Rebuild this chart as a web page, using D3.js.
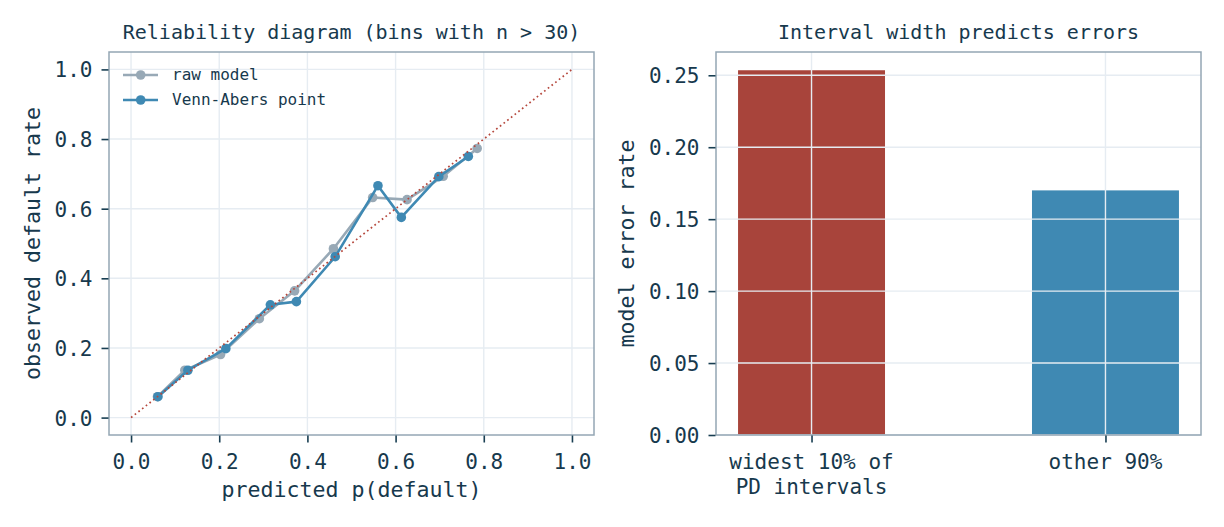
<!DOCTYPE html>
<html>
<head>
<meta charset="utf-8">
<script src="https://cdn.jsdelivr.net/npm/d3@7"></script>
<style>
  html, body { margin: 0; padding: 0; background: #ffffff; }
  svg { display: block; }
  text { font-family: "DejaVu Sans Mono", monospace; fill: #17394d; }
</style>
</head>
<body>
<svg id="chart" width="1224" height="527"></svg>
<script>
// ---- data ----
const rawPred = [0.060, 0.122, 0.203, 0.291, 0.371, 0.459, 0.548, 0.626, 0.708, 0.785];
const rawObs  = [0.060, 0.136, 0.181, 0.284, 0.364, 0.485, 0.632, 0.626, 0.693, 0.773];
const vaPred  = [0.061, 0.129, 0.215, 0.316, 0.375, 0.463, 0.560, 0.613, 0.698, 0.765];
const vaObs   = [0.060, 0.136, 0.198, 0.324, 0.333, 0.462, 0.666, 0.575, 0.692, 0.750];
const seriesNames = ["raw model", "Venn-Abers point"];
const calibTicks = [0.0, 0.2, 0.4, 0.6, 0.8, 1.0];

const barCategories = [["widest 10% of", "PD intervals"], ["other 90%"]];
const barValues = [0.2535, 0.170];
const errTicks = [0.00, 0.05, 0.10, 0.15, 0.20, 0.25];

// ---- style ----
const TEXT = "#183e52", SPINE = "#94a6b4", GRID = "#e6ecf2";
const GRAYC = "#98a9b6", BLUEC = "#3f89b3", REDC = "#a8443b";
const TICKFS = "21px", LABELFS = "21.6px";

const svg = d3.select("#chart");

function frame(g, x0, x1, y0, y1) {
  g.append("rect").attr("x", x0).attr("y", y0).attr("width", x1 - x0).attr("height", y1 - y0)
    .attr("fill", "none").attr("stroke", SPINE).attr("stroke-width", 1.5);
}

// ================= LEFT: reliability diagram =================
const L = {x0: 109, x1: 594, y0: 52, y1: 435};
const xL = d3.scaleLinear().domain([-0.05, 1.05]).range([L.x0, L.x1]);
const yL = d3.scaleLinear().domain([-0.05, 1.05]).range([L.y1, L.y0]);
const gL = svg.append("g");

// grid
gL.append("g").selectAll("line.gx").data(calibTicks).join("line")
  .attr("x1", d => xL(d)).attr("x2", d => xL(d)).attr("y1", L.y0).attr("y2", L.y1)
  .attr("stroke", GRID).attr("stroke-width", 1.4);
gL.append("g").selectAll("line.gy").data(calibTicks).join("line")
  .attr("y1", d => yL(d)).attr("y2", d => yL(d)).attr("x1", L.x0).attr("x2", L.x1)
  .attr("stroke", GRID).attr("stroke-width", 1.4);

const line = d3.line().x(d => xL(d[0])).y(d => yL(d[1]));
const rawPts = rawPred.map((p, i) => [p, rawObs[i]]);
const vaPts = vaPred.map((p, i) => [p, vaObs[i]]);

gL.append("path").datum(rawPts).attr("d", line).attr("fill", "none")
  .attr("stroke", GRAYC).attr("stroke-width", 2.6).attr("stroke-linejoin", "round");
gL.append("g").selectAll("circle").data(rawPts).join("circle")
  .attr("cx", d => xL(d[0])).attr("cy", d => yL(d[1])).attr("r", 4.8).attr("fill", GRAYC);

gL.append("path").datum(vaPts).attr("d", line).attr("fill", "none")
  .attr("stroke", BLUEC).attr("stroke-width", 2.6).attr("stroke-linejoin", "round");
gL.append("g").selectAll("circle").data(vaPts).join("circle")
  .attr("cx", d => xL(d[0])).attr("cy", d => yL(d[1])).attr("r", 4.8).attr("fill", BLUEC);

// diagonal
gL.append("line").attr("x1", xL(0)).attr("y1", yL(0)).attr("x2", xL(1)).attr("y2", yL(1))
  .attr("stroke", "#b5473c").attr("stroke-width", 1.7).attr("stroke-dasharray", "1.7,3");

frame(gL, L.x0, L.x1, L.y0, L.y1);

// axes
const axXL = d3.axisBottom(xL).tickValues(calibTicks).tickFormat(d3.format(".1f")).tickSize(7).tickPadding(9);
const gAxXL = gL.append("g").attr("transform", `translate(0,${L.y1 + 0.5})`).call(axXL);
const axYL = d3.axisLeft(yL).tickValues(calibTicks).tickFormat(d3.format(".1f")).tickSize(7).tickPadding(9);
const gAxYL = gL.append("g").attr("transform", `translate(${L.x0 - 0.5},0)`).call(axYL);
[gAxXL, gAxYL].forEach(a => {
  a.select(".domain").remove();
  a.selectAll(".tick line").attr("stroke", TEXT).attr("stroke-width", 1.6);
  a.selectAll(".tick text").attr("fill", TEXT).style("font-size", TICKFS)
    .style("font-family", "DejaVu Sans Mono");
});
gAxXL.selectAll(".tick text").attr("dy", null).attr("y", 33.5);
gAxYL.selectAll(".tick text").attr("dy", "0.36em");

gL.append("text").attr("x", (L.x0 + L.x1) / 2).attr("y", 38.5).attr("text-anchor", "middle")
  .style("font-size", "20px").text("Reliability diagram (bins with n > 30)");
gL.append("text").attr("x", (L.x0 + L.x1) / 2).attr("y", 497).attr("text-anchor", "middle")
  .style("font-size", LABELFS).text("predicted p(default)");
gL.append("text").attr("transform", `translate(40,${(L.y0 + L.y1) / 2}) rotate(-90)`)
  .attr("text-anchor", "middle").style("font-size", LABELFS).text("observed default rate");

// legend
const legColors = [GRAYC, BLUEC];
seriesNames.forEach((name, i) => {
  const cy = 75 + i * 25;
  gL.append("line").attr("x1", 123).attr("x2", 158).attr("y1", cy).attr("y2", cy)
    .attr("stroke", legColors[i]).attr("stroke-width", 2.6);
  gL.append("circle").attr("cx", 140.7).attr("cy", cy).attr("r", 4.8).attr("fill", legColors[i]);
  gL.append("text").attr("x", 172).attr("y", cy + 5).style("font-size", "16px").text(name);
});

// ================= RIGHT: bar chart =================
const R = {x0: 716, x1: 1201, y0: 52, y1: 435};
const xR = d3.scaleLinear().domain([-0.325, 1.325]).range([R.x0, R.x1]);
const yR = d3.scaleLinear().domain([0, d3.max(barValues) * 1.05]).range([R.y1, R.y0]);
const gR = svg.append("g");
const barColors = [REDC, BLUEC];
const idx = barValues.map((v, i) => i);

gR.append("g").selectAll("rect").data(idx).join("rect")
  .attr("x", i => xR(i - 0.25)).attr("width", i => xR(i + 0.25) - xR(i - 0.25))
  .attr("y", i => yR(barValues[i])).attr("height", i => yR(0) - yR(barValues[i]))
  .attr("fill", i => barColors[i]);

// grid (drawn over bars)
gR.append("g").selectAll("line").data(idx).join("line")
  .attr("x1", i => xR(i)).attr("x2", i => xR(i)).attr("y1", R.y0).attr("y2", R.y1)
  .attr("stroke", GRID).attr("stroke-width", 1.4);
gR.append("g").selectAll("line").data(errTicks).join("line")
  .attr("y1", d => yR(d)).attr("y2", d => yR(d)).attr("x1", R.x0).attr("x2", R.x1)
  .attr("stroke", GRID).attr("stroke-width", 1.4);

frame(gR, R.x0, R.x1, R.y0, R.y1);

const axYR = d3.axisLeft(yR).tickValues(errTicks).tickFormat(d3.format(".2f")).tickSize(7).tickPadding(9);
const gAxYR = gR.append("g").attr("transform", `translate(${R.x0 - 0.5},0)`).call(axYR);
const axXR = d3.axisBottom(xR).tickValues(idx).tickFormat("").tickSize(7);
const gAxXR = gR.append("g").attr("transform", `translate(0,${R.y1 + 0.5})`).call(axXR);
[gAxXR, gAxYR].forEach(a => {
  a.select(".domain").remove();
  a.selectAll(".tick line").attr("stroke", TEXT).attr("stroke-width", 1.6);
  a.selectAll(".tick text").attr("fill", TEXT).style("font-size", TICKFS)
    .style("font-family", "DejaVu Sans Mono");
});
gAxYR.selectAll(".tick text").attr("dy", "0.36em");

// multi-line category labels
idx.forEach(i => {
  const t = gR.append("text").attr("text-anchor", "middle").style("font-size", TICKFS);
  barCategories[i].forEach((ln, k) => {
    t.append("tspan").attr("x", xR(i)).attr("y", 469 + k * 25).text(ln);
  });
});

gR.append("text").attr("x", (R.x0 + R.x1) / 2).attr("y", 38.5).attr("text-anchor", "middle")
  .style("font-size", "20px").text("Interval width predicts errors");
gR.append("text").attr("transform", `translate(634,${(R.y0 + R.y1) / 2}) rotate(-90)`)
  .attr("text-anchor", "middle").style("font-size", LABELFS).text("model error rate");
</script>
</body>
</html>
